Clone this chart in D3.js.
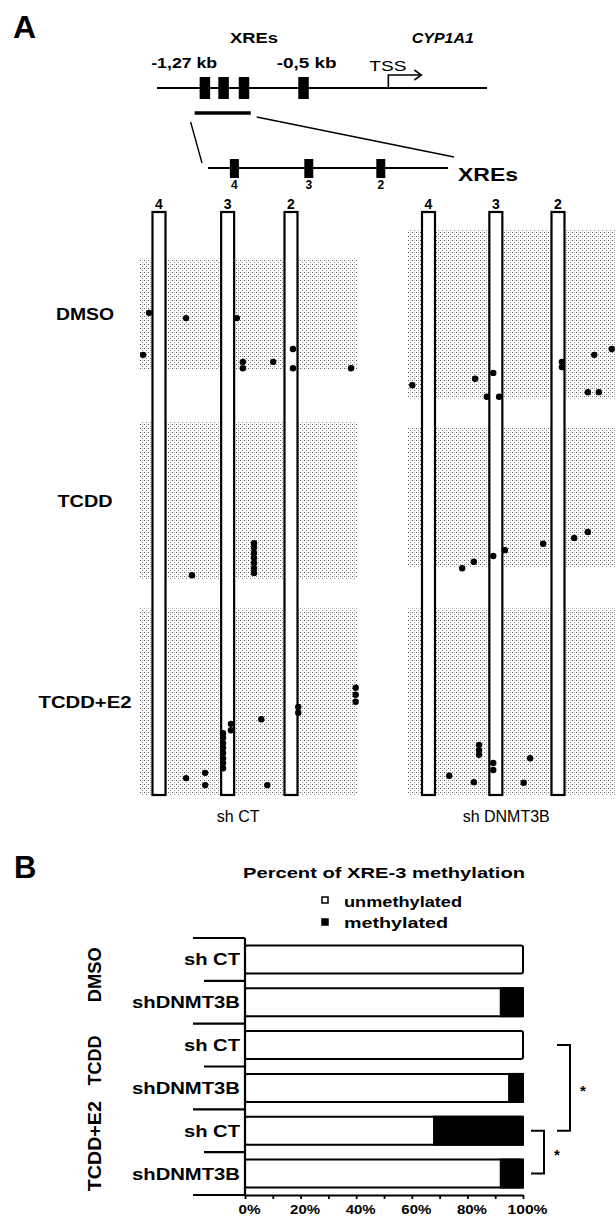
<!DOCTYPE html>
<html>
<head>
<meta charset="utf-8">
<script src="https://cdn.jsdelivr.net/npm/d3@7"></script>
<style>
  body { margin: 0; background: #fff; }
  text { font-family: "Liberation Sans", Arial, sans-serif; fill: #000; }
</style>
</head>
<body>
<div id="fig"></div>
<script>

// ---- gene map (schematic, kb from TSS)
const geneSpan = [-1.36, 0.58];
const xreKb = [-1.08, -0.97, -0.85, -0.50];
const tssKb = 0;
const kbLabels = [["-1,27 kb", -1.2], ["-0,5 kb", -0.48]];
const xreSites = ["4", "3", "2"];
const xreZoomPos = [0.11, 0.42, 0.72];   // along enlarged fragment, 0..1

// ---- panel A, bisulfite clones
const groups = ["sh CT", "sh DNMT3B"];
const conditions = ["DMSO", "TCDD", "TCDD+E2"];
const columnPos = [0, 1.04, 2];           // XRE 4, 3, 2 in amplicon units
// clone-area extents per condition (clone units 0..100)
const bandsCT = [[8, 27], [36, 63], [68, 100]];
const bandsDN = [[3, 32], [37, 61], [68, 100]];
const bandSpanCT = [-0.29, 3.0];
const bandSpanDN = [-0.32, 3.1];
// methylated CpGs: [amplicon position, clone position]
const dotsCT = [
  [-0.15, 17.3], [0.41, 18.2], [1.18, 18.2], [-0.24, 24.5], [1.27, 25.7], [1.27, 26.8],
  [1.73, 25.7], [2.03, 23.5], [2.03, 26.8], [2.91, 26.8],
  [0.50, 62.3], [1.44, 56.8], [1.44, 57.6], [1.44, 58.5], [1.44, 59.3], [1.44, 60.2],
  [1.44, 61.1], [1.44, 61.9],
  [2.98, 81.6], [2.98, 82.8], [2.98, 84.0], [2.11, 84.9], [2.11, 85.9], [1.55, 87.0],
  [1.09, 87.8], [1.09, 88.9], [0.97, 89.4], [0.97, 90.2], [0.97, 91.1], [0.97, 91.9],
  [0.97, 92.8], [0.97, 93.7], [0.97, 94.5], [0.97, 95.4], [0.41, 97.1], [0.70, 96.2],
  [0.70, 98.3], [1.64, 98.3]
];
const dotsDN = [
  [-0.25, 29.7], [0.72, 28.6], [1.00, 27.6], [0.90, 31.7], [1.09, 31.7], [2.06, 25.7],
  [2.06, 26.6], [2.56, 24.5], [2.83, 23.5], [2.46, 30.9], [2.63, 30.9],
  [0.52, 61.1], [0.70, 60.0], [1.00, 59.0], [1.18, 58.0], [1.77, 56.9], [2.25, 55.9],
  [2.46, 54.9],
  [0.78, 91.4], [0.78, 92.3], [0.78, 93.1], [1.00, 94.5], [1.00, 95.7], [1.57, 93.7],
  [0.32, 96.7], [0.70, 97.8], [1.47, 97.9]
];

// ---- panel B, percent XRE-3 methylation
const rowLabels = ["sh CT", "shDNMT3B", "sh CT", "shDNMT3B", "sh CT", "shDNMT3B"];
const rowConds = ["DMSO", "DMSO", "TCDD", "TCDD", "TCDD+E2", "TCDD+E2"];
const unmethylated = [100, 92, 100, 95, 68, 92];
const methylated = [0, 8, 0, 5, 32, 8];
const pctTicks = [0, 20, 40, 60, 80, 100];
const signif = [[2, 4], [4, 5]];


const W = 616, H = 1219;
const svg = d3.select("#fig").append("svg")
  .attr("width", W)
  .attr("height", H);

// stretched bold labels, the scan's type is wide
function label(g, str, x, y, o) {
  const t = g.append("text")
    .attr("x", x)
    .attr("y", y)
    .attr("font-size", o.size)
    .attr("font-weight", o.weight || "bold")
    .attr("text-anchor", o.anchor || "start")
    .text(str);
  if (o.italic) t.attr("font-style", "italic");
  if (o.width) t.attr("textLength", o.width).attr("lengthAdjust", "spacingAndGlyphs");
  return t;
}

const defs = svg.append("defs");
const pat = defs.append("pattern")
  .attr("id", "stip")
  .attr("width", 4)
  .attr("height", 4)
  .attr("patternUnits", "userSpaceOnUse");
pat.append("rect").attr("x", 0).attr("y", 0).attr("width", 1).attr("height", 1).attr("fill", "#5e5e5e");
pat.append("rect").attr("x", 2).attr("y", 2).attr("width", 1).attr("height", 1).attr("fill", "#8c8c8c");
pat.append("rect").attr("x", 2).attr("y", 0).attr("width", 1).attr("height", 1).attr("fill", "#c4c4c4");

// ================= panel A header: gene map
const gMap = svg.append("g");
label(gMap, "A", 13, 38, {size: 32});

const xKb = d3.scaleLinear().domain(geneSpan).range([157, 487]);
const lineY = 88;

gMap.append("line")
  .attr("x1", xKb(geneSpan[0])).attr("x2", xKb(geneSpan[1]))
  .attr("y1", lineY).attr("y2", lineY)
  .attr("stroke", "#000").attr("stroke-width", 2);

gMap.selectAll("rect.xre")
  .data(xreKb)
  .enter()
  .append("rect")
  .attr("class", "xre")
  .attr("x", d => xKb(d) - 5)
  .attr("y", lineY - 11)
  .attr("width", 10.5)
  .attr("height", 22)
  .attr("fill", "#000");

label(gMap, "XREs", (xKb(xreKb[0]) + xKb(xreKb[3])) / 2, 43, {size: 14, anchor: "middle", width: 48});
label(gMap, "CYP1A1", xKb(0.32), 43, {size: 14, anchor: "middle", italic: true, width: 62});
kbLabels.forEach(function (d, i) {
  label(gMap, d[0], xKb(d[1]), 68, {size: 14, anchor: "middle", width: i == 0 ? 66 : 60});
});

// TSS arrow
const tx = xKb(tssKb);
gMap.append("path")
  .attr("d", `M${tx},${lineY} V75 H${tx + 32}`)
  .attr("fill", "none").attr("stroke", "#000").attr("stroke-width", 1.6);
gMap.append("path")
  .attr("d", `M${tx + 26},70 L${tx + 33},75 L${tx + 26},80`)
  .attr("fill", "none").attr("stroke", "#000").attr("stroke-width", 1.6);
label(gMap, "TSS", tx - 19, 71, {size: 14, weight: "normal", width: 37});

// enlarged fragment
const barL = xKb(xreKb[0]) - 10, barR = xKb(xreKb[2]) + 7;
gMap.append("line")
  .attr("x1", barL).attr("x2", barR).attr("y1", 113).attr("y2", 113)
  .attr("stroke", "#000").attr("stroke-width", 3.5);

const xZ = d3.scaleLinear().domain([0, 1]).range([208, 448]);
const zY = 168;
gMap.append("line")
  .attr("x1", barL - 4).attr("y1", 122).attr("x2", xZ(0) - 6).attr("y2", 163)
  .attr("stroke", "#000").attr("stroke-width", 1.4);
gMap.append("line")
  .attr("x1", barR + 6).attr("y1", 117).attr("x2", xZ(1) + 6).attr("y2", 157)
  .attr("stroke", "#000").attr("stroke-width", 1.4);
gMap.append("line")
  .attr("x1", xZ(0)).attr("x2", xZ(1)).attr("y1", zY).attr("y2", zY)
  .attr("stroke", "#000").attr("stroke-width", 2);
gMap.selectAll("rect.zx")
  .data(xreZoomPos)
  .enter()
  .append("rect")
  .attr("class", "zx")
  .attr("x", d => xZ(d) - 4.5)
  .attr("y", zY - 9)
  .attr("width", 9)
  .attr("height", 19)
  .attr("fill", "#000");
xreZoomPos.forEach(function (d, i) {
  label(gMap, xreSites[i], xZ(d), 189, {size: 12, anchor: "middle"});
});
label(gMap, "XREs", xZ(1) + 10, 181, {size: 19, width: 60});

// ================= panel A: clones
const yA = d3.scaleLinear().domain([0, 100]).range([212, 795]);
const xCT = d3.scaleLinear().domain([0, 2]).range([159, 291]);
const xDN = d3.scaleLinear().domain([0, 2]).range([428.5, 558]);

const sets = [
  {name: groups[0], x: xCT, bands: bandsCT, span: bandSpanCT, dots: dotsCT, lx: 1.2},
  {name: groups[1], x: xDN, bands: bandsDN, span: bandSpanDN, dots: dotsDN, lx: 1.2}
];

const gA = svg.append("g");
sets.forEach(function (s) {
  const g = gA.append("g");

  g.selectAll("rect.band")
    .data(s.bands)
    .enter()
    .append("rect")
    .attr("class", "band")
    .attr("x", s.x(s.span[0]))
    .attr("width", s.x(s.span[1]) - s.x(s.span[0]))
    .attr("y", d => yA(d[0]))
    .attr("height", d => yA(d[1]) - yA(d[0]))
    .attr("fill", "url(#stip)");

  g.selectAll("rect.col")
    .data(columnPos)
    .enter()
    .append("rect")
    .attr("class", "col")
    .attr("x", d => s.x(d) - 6.5)
    .attr("y", yA(0))
    .attr("width", 13)
    .attr("height", yA(100) - yA(0))
    .attr("fill", "#fff")
    .attr("stroke", "#000")
    .attr("stroke-width", 2.2);

  columnPos.forEach(function (d, i) {
    label(g, xreSites[i], s.x(d), yA(0) - 3, {size: 14, anchor: "middle"});
  });

  g.selectAll("circle")
    .data(s.dots)
    .enter()
    .append("circle")
    .attr("cx", d => s.x(d[0]))
    .attr("cy", d => yA(d[1]))
    .attr("r", 3.2)
    .attr("fill", "#000");

  label(g, s.name, s.x(s.lx), 822, {size: 16, weight: "normal", anchor: "middle"});
});

const condW = [58, 55, 93];
conditions.forEach(function (c, i) {
  const b = bandsCT[i];
  label(gA, c, 85, yA((b[0] + b[1]) / 2) + 6, {size: 17, anchor: "middle", width: condW[i]});
});

// ================= panel B: stacked bars
const gB = svg.append("g");
label(gB, "B", 14, 878, {size: 31});
label(gB, "Percent of XRE-3 methylation", 384, 878, {size: 15, anchor: "middle", width: 282});

// legend
const leg = [["unmethylated", "#fff", 118], ["methylated", "#000", 104]];
leg.forEach(function (d, i) {
  gB.append("rect")
    .attr("x", 322).attr("y", 897 + i * 22)
    .attr("width", 6).attr("height", 6)
    .attr("fill", d[1]).attr("stroke", "#000").attr("stroke-width", 1.5);
  label(gB, d[0], 344, 907 + i * 21, {size: 14, width: d[2]});
});

const yB = d3.scaleBand().domain(d3.range(rowLabels.length)).range([938, 1195]);
const xB = d3.scaleLinear().domain([0, 100]).range([245, 523]);
const barH = 28;
const cy = i => yB(i) + yB.bandwidth() / 2;

const bars = gB.selectAll("g.bar")
  .data(rowLabels.map((r, i) => ({r: r, u: unmethylated[i], m: methylated[i], i: i})))
  .enter()
  .append("g")
  .attr("class", "bar");

bars.append("rect")
  .attr("x", xB(0))
  .attr("y", d => cy(d.i) - barH / 2)
  .attr("width", xB(100) - xB(0))
  .attr("height", barH)
  .attr("rx", 2)
  .attr("fill", "#fff")
  .attr("stroke", "#000")
  .attr("stroke-width", 2);

bars.append("rect")
  .attr("x", d => xB(d.u))
  .attr("y", d => cy(d.i) - barH / 2)
  .attr("width", d => xB(d.u + d.m) - xB(d.u))
  .attr("height", barH)
  .attr("fill", "#000")
  .attr("stroke", "#000")
  .attr("stroke-width", 2);

bars.each(function (d) {
  label(d3.select(this), d.r, 240, cy(d.i) + 6, {size: 16, anchor: "end", width: d.r == "sh CT" ? 56 : 108});
});

// category axis: spine and separators
gB.append("line")
  .attr("x1", xB(0)).attr("x2", xB(0))
  .attr("y1", yB(0)).attr("y2", yB.range()[1])
  .attr("stroke", "#000").attr("stroke-width", 2.2);
d3.range(rowLabels.length + 1).forEach(function (i) {
  const y = i < rowLabels.length ? yB(i) : yB.range()[1];
  gB.append("line")
    .attr("x1", i % 2 == 0 ? 193 : 204).attr("x2", xB(0))
    .attr("y1", y).attr("y2", y)
    .attr("stroke", "#000").attr("stroke-width", 2.2);
});

// treatment labels, rotated
const grpW = [55, 50, 90];
conditions.forEach(function (c, k) {
  const y = (cy(2 * k) + cy(2 * k + 1)) / 2 - 6;
  label(gB, c, 0, 0, {size: 18, anchor: "middle", width: grpW[k]})
    .attr("transform", `translate(101,${y}) rotate(-90)`);
});

// percent axis
const xAxis = d3.axisBottom(xB)
  .tickValues(d3.range(0, 101, 10))
  .tickSize(4)
  .tickSizeOuter(0)
  .tickPadding(6)
  .tickFormat(d => pctTicks.includes(d) ? d + "%" : "");
const ax = gB.append("g")
  .attr("transform", `translate(0,${yB.range()[1]})`)
  .call(xAxis);
ax.select(".domain").attr("stroke-width", 2.2);
ax.selectAll(".tick line").attr("stroke-width", 1.8);
ax.selectAll(".tick text")
  .attr("font-family", "Liberation Sans, Arial, sans-serif")
  .attr("font-size", 13)
  .attr("font-weight", "bold")
  .attr("dx", 4)
  .each(function (d) {
    if (pctTicks.includes(d)) {
      d3.select(this).attr("textLength", d == 100 ? 40 : d == 0 ? 22 : 30).attr("lengthAdjust", "spacingAndGlyphs");
    }
  });

// significance brackets
const brX = [xB(100) + 47, xB(100) + 21];
signif.forEach(function (p, k) {
  const x = brX[k];
  const y1 = cy(p[0]), y2 = cy(p[1]);
  gB.append("path")
    .attr("d", `M${x - 13},${y1} H${x} V${y2} H${x - 13}`)
    .attr("fill", "none").attr("stroke", "#000").attr("stroke-width", 2);
  label(gB, "*", x + 13, (y1 + y2) / 2 + 8, {size: 15, anchor: "middle"});
});

</script>
</body>
</html>
